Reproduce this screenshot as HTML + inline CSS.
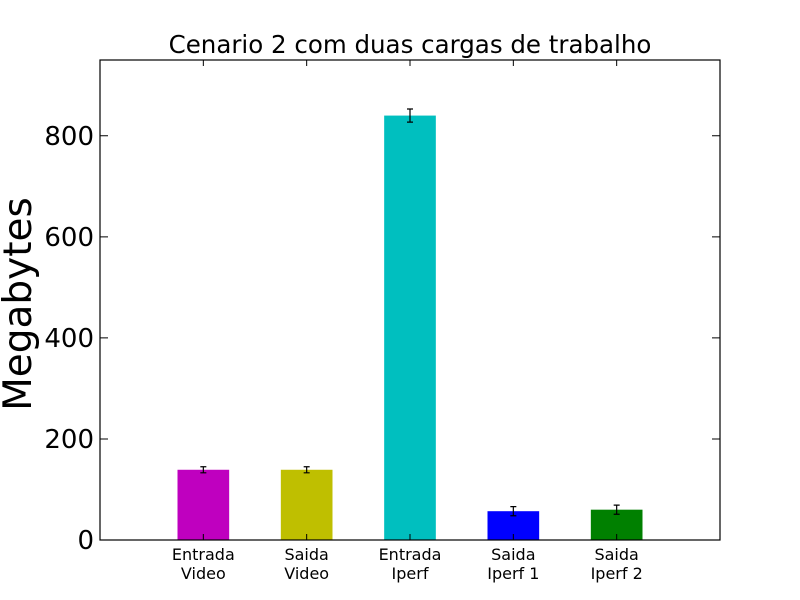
<!DOCTYPE html>
<html><head><meta charset="utf-8"><style>body{margin:0;background:#fff}svg{display:block}text{font-family:"DejaVu Sans","Liberation Sans",sans-serif}</style></head>
<body>
<svg id="c" width="800" height="600">
<rect width="800" height="600" fill="#fff"/>
<text x="410" y="53" font-size="24.5" text-anchor="middle">Cenario 2 com duas cargas de trabalho</text>
<text transform="translate(31,304) rotate(-90)" font-size="39" text-anchor="middle">Megabytes</text>
<g id="plot"></g>
</svg>
<script>
const categories=[["Entrada","Video"],["Saida","Video"],["Entrada","Iperf"],["Saida","Iperf 1"],["Saida","Iperf 2"]];
const values=[139,139,840,57,60];
const errors=[6,6,13,9,9];
const colors=["#bf00bf","#bfbf00","#00bfbf","#0000ff","#008000"];
const yTicks=[0,200,400,600,800];
const L=100,R=720,T=60,B=540,ymax=950,xmin=-1,xmax=5;
const xs=v=>L+(v-xmin)/(xmax-xmin)*(R-L);
const ys=v=>B-v/ymax*(B-T);
const NS="http://www.w3.org/2000/svg";
const g=document.getElementById('plot');
function mk(t,a){const e=document.createElementNS(NS,t);for(const k in a)e.setAttribute(k,a[k]);g.appendChild(e);return e;}
values.forEach((v,i)=>{
  const x0=xs(i-0.25),x1=xs(i+0.25);
  const b=mk('rect',{x:x0,y:ys(v),width:x1-x0,height:B-ys(v),fill:colors[i]});
  
  
  const cx=xs(i),e=errors[i];
  const eb=mk('path',{d:`M${cx},${ys(v+e)}V${ys(v-e)}M${cx-3},${ys(v+e)}H${cx+3}M${cx-3},${ys(v-e)}H${cx+3}`,stroke:'#000','stroke-width':1.2,fill:'none'});
  
  
  const tk=mk('path',{d:`M${cx},${B}v-6M${cx},${T}v6`,stroke:'#000','stroke-width':1});
  
  
  categories[i].forEach((s,j)=>{
    const t=mk('text',{x:cx,y:560+j*19,'font-size':16,'text-anchor':'middle'});
    t.textContent=s;
    
    
  });
});
yTicks.forEach(v=>{
  const y=ys(v);
  const tk=mk('path',{d:`M${L},${y}h8M${R},${y}h-8`,stroke:'#000','stroke-width':1});
  
  
  const t=mk('text',{x:L-6,y:y+9,'font-size':26,'text-anchor':'end'});
  t.textContent=v;
  
  
});
const fr=mk('rect',{x:L,y:T,width:R-L,height:B-T,fill:'none',stroke:'#000','stroke-width':1.2});


</script>
</body></html>
